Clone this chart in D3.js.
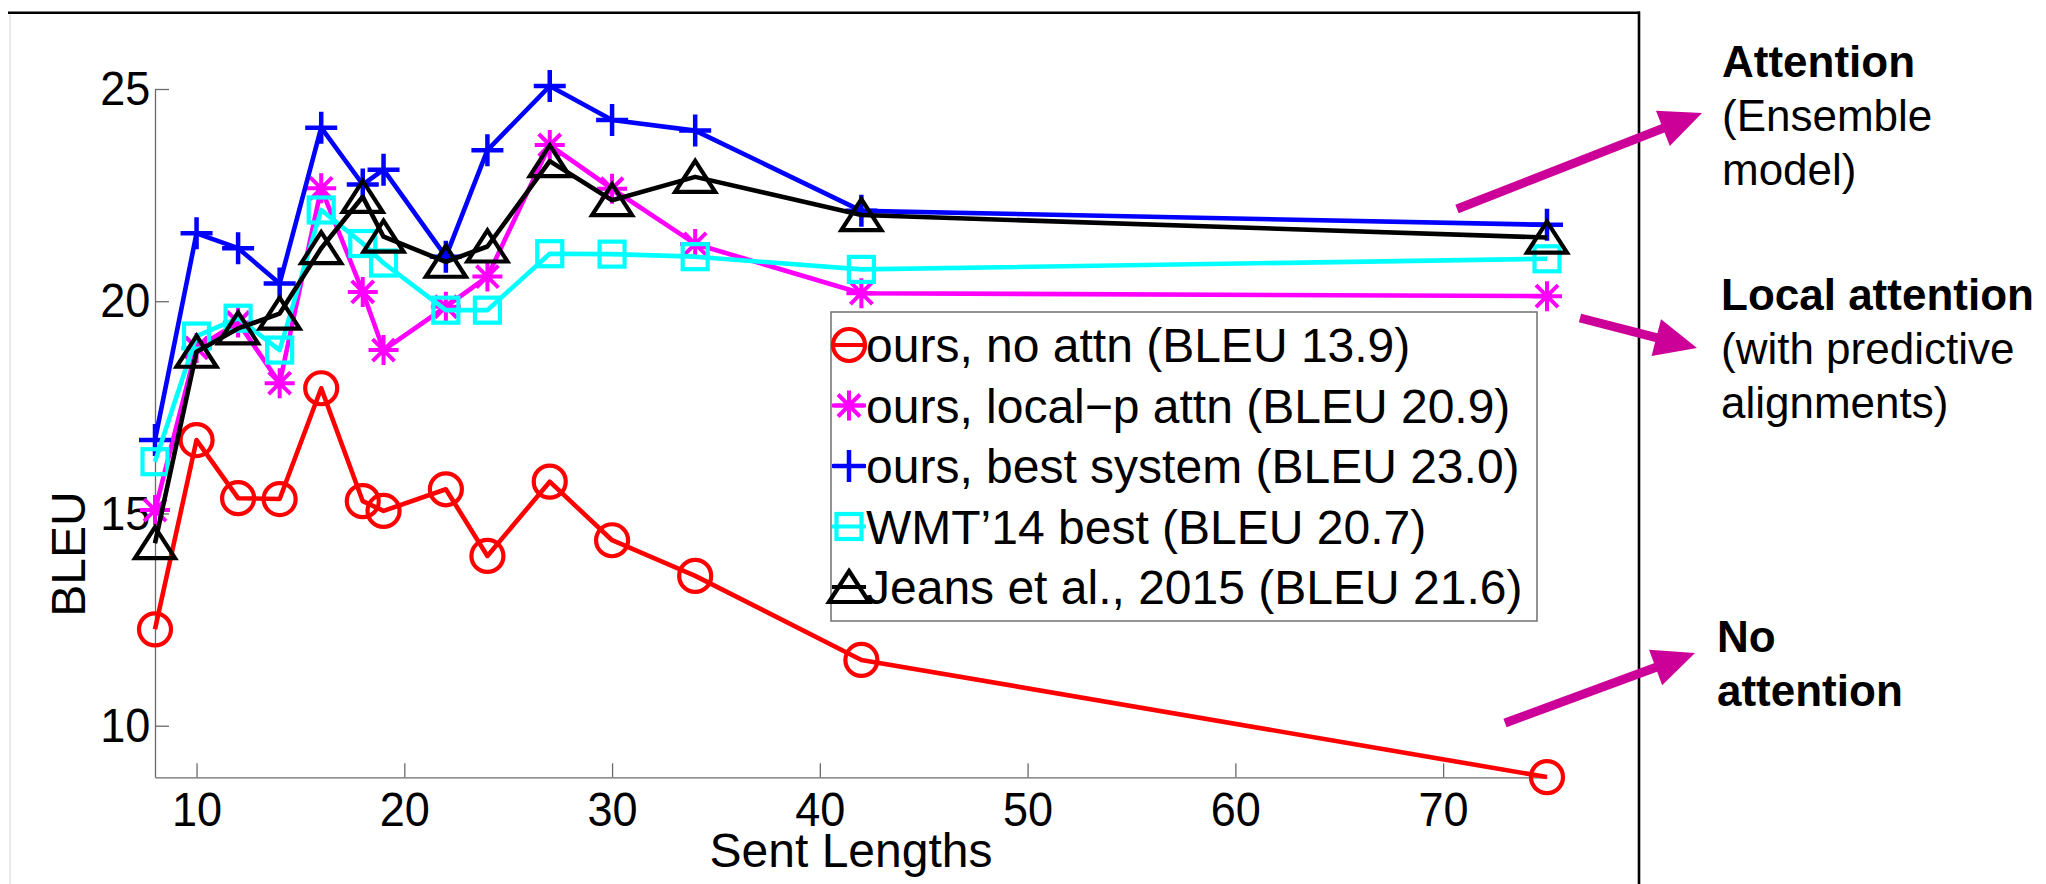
<!DOCTYPE html>
<html>
<head>
<meta charset="utf-8">
<script src="https://cdn.jsdelivr.net/npm/d3@7"></script>
<style>
  html, body { margin: 0; padding: 0; background: #fff; }
  svg { display: block; font-family: "Liberation Sans", Arial, Helvetica, sans-serif; }
  .tick text { font-size: 49px; fill: #000; }
  .tick line, .domain { stroke: #6a6a6a; stroke-width: 1.3; }
</style>
</head>
<body>
<svg id="chart" width="2046" height="884"></svg>
<script>
/* BLEU vs sentence length — MATLAB-style line plot with slide annotations */

// ============================================================
// Data
// ============================================================

const sentLengths = [8, 10, 12, 14, 16, 18, 19, 22, 24, 27, 30, 34, 42, 75];

const noAttn     = [12.27, 16.73, 15.36, 15.34, 17.95, 15.29, 15.06, 15.57, 14.00, 15.75, 14.37, 13.53, 11.55, 8.79];
const localP     = [15.08, 18.90, 19.50, 18.07, 22.66, 20.22, 18.85, 19.87, 20.58, 23.68, 22.65, 21.35, 20.19, 20.12];
const bestSystem = [16.73, 21.60, 21.25, 20.42, 24.09, 22.75, 23.10, 21.05, 23.56, 25.07, 24.27, 24.02, 22.13, 21.80];
const wmt14      = [16.22, 19.18, 19.60, 18.85, 22.15, 21.36, 20.90, 19.79, 19.79, 21.12, 21.11, 21.05, 20.75, 21.00];
const jeans      = [14.30, 18.81, 19.36, 19.71, 21.25, 22.46, 21.52, 20.93, 21.29, 23.30, 22.38, 22.93, 22.03, 21.50];

const seriesNames   = [
  'ours, no attn (BLEU 13.9)',
  'ours, local\u2212p attn (BLEU 20.9)',
  'ours, best system (BLEU 23.0)',
  'WMT\u201914 best (BLEU 20.7)',
  'Jeans et al., 2015 (BLEU 21.6)',
];
const seriesValues  = [noAttn, localP, bestSystem, wmt14, jeans];
const seriesColors  = ['#ff0000', '#ff00ff', '#0000ff', '#00ffff', '#000000'];
const seriesMarkers = ['circle', 'asterisk', 'plus', 'square', 'triangle'];

const xTicks = [10, 20, 30, 40, 50, 60, 70];
const yTicks = [10, 15, 20, 25];

// side notes: [bold lines], [normal lines]
const noteBold   = [['Attention'], ['Local attention'], ['No', 'attention']];
const noteNormal = [['(Ensemble', 'model)'], ['(with predictive', 'alignments)'], []];

// ============================================================
// Layout
// ============================================================

const svg = d3.select('#chart');
const ARROW = '#cc0099';

const x = d3.scaleLinear().domain([8, 75]).range([155, 1547]);
const y = d3.scaleLinear().domain([8.785, 25]).range([777.3, 89]);

// slide frame
svg.append('line').attr('x1', 10).attr('x2', 10).attr('y1', 13).attr('y2', 884)
  .attr('stroke', '#e4e4e4').attr('stroke-width', 1.5);
svg.append('line').attr('x1', 8).attr('x2', 1640).attr('y1', 12.7).attr('y2', 12.7)
  .attr('stroke', '#000').attr('stroke-width', 2.6);
svg.append('line').attr('x1', 1639).attr('x2', 1639).attr('y1', 11.5).attr('y2', 884)
  .attr('stroke', '#000').attr('stroke-width', 2.6);

// ============================================================
// Axes
// ============================================================

const yAxis = svg.append('g')
  .attr('transform', 'translate(155,0)')
  .call(d3.axisLeft(y).tickValues(yTicks).tickSize(-14).tickSizeOuter(0).tickPadding(5));

const xAxis = svg.append('g')
  .attr('transform', 'translate(0,777.3)')
  .call(d3.axisBottom(x).tickValues(xTicks).tickSize(-14).tickSizeOuter(0).tickPadding(14));

// MATLAB's Helvetica is a touch narrower than Liberation Sans
yAxis.selectAll('.tick text').attr('transform', 'scale(0.92,1)');
xAxis.selectAll('.tick text').attr('transform', 'scale(0.92,1)');

svg.append('text')
  .attr('x', 851).attr('y', 867)
  .attr('text-anchor', 'middle')
  .attr('font-size', 48)
  .text('Sent Lengths');

svg.append('text')
  .attr('transform', 'translate(85,554) rotate(-90)')
  .attr('text-anchor', 'middle')
  .attr('font-size', 48)
  .text('BLEU');

// ============================================================
// Markers
// ============================================================

function drawMarker(g, type, cx, cy, color) {
  const m = g.append('g').attr('transform', `translate(${cx},${cy})`)
    .attr('fill', 'none').attr('stroke', color).attr('stroke-width', 4.2);
  if (type === 'circle') {
    m.append('circle').attr('r', 16);
  } else if (type === 'plus') {
    m.append('path').attr('d', 'M-16,0H16M0,-16V16').attr('stroke-width', 4.5);
  } else if (type === 'asterisk') {
    m.append('path').attr('d', 'M-15,0H15M0,-15V15M-11,-11L11,11M-11,11L11,-11').attr('stroke-width', 4);
  } else if (type === 'square') {
    m.append('rect').attr('x', -12.5).attr('y', -12.5).attr('width', 25).attr('height', 25);
  } else if (type === 'triangle') {
    m.append('path').attr('d', 'M0,-16L20,15H-20Z').attr('stroke-linejoin', 'miter');
  }
}

// ============================================================
// Series
// ============================================================

const line = d3.line().x(d => x(d[0])).y(d => y(d[1]));

seriesValues.forEach((vals, i) => {
  const pts = sentLengths.map((s, j) => [s, vals[j]]);
  const g = svg.append('g').attr('class', 'series');
  g.append('path')
    .datum(pts)
    .attr('d', line)
    .attr('fill', 'none')
    .attr('stroke', seriesColors[i])
    .attr('stroke-width', 4.6)
    .attr('stroke-linejoin', 'round');
  pts.forEach(p => drawMarker(g, seriesMarkers[i], x(p[0]), y(p[1]), seriesColors[i]));
});

// ============================================================
// Legend
// ============================================================

const legend = svg.append('g');
legend.append('rect')
  .attr('x', 831).attr('y', 312).attr('width', 706).attr('height', 309)
  .attr('fill', '#fff').attr('stroke', '#707070').attr('stroke-width', 1.5);

seriesNames.forEach((name, i) => {
  const cy = 345 + i * 60.5;
  legend.append('line')
    .attr('x1', 832).attr('x2', 866).attr('y1', cy).attr('y2', cy)
    .attr('stroke', seriesColors[i]).attr('stroke-width', 4.2);
  drawMarker(legend, seriesMarkers[i], 849, cy, seriesColors[i]);
  legend.append('text')
    .attr('x', 866).attr('y', cy + 17)
    .attr('font-size', 48)
    .text(name);
});

// ============================================================
// Side notes + arrows
// ============================================================

const noteX = [1722, 1721, 1717];
const noteY = [77, 310, 652];      // first baseline
const noteLead = 54;

noteBold.forEach((lines, i) => {
  const all = lines.map(t => ({ t, bold: true }))
    .concat(noteNormal[i].map(t => ({ t, bold: false })));
  all.forEach((l, k) => {
    svg.append('text')
      .attr('x', noteX[i]).attr('y', noteY[i] + k * noteLead)
      .attr('font-size', 44)
      .attr('font-weight', l.bold ? 'bold' : 'normal')
      .text(l.t);
  });
});

const arrowTail = [[1457, 209], [1580, 318], [1505, 723]];
const arrowTip  = [[1702, 113], [1697, 348], [1695, 653]];

arrowTail.forEach((t, i) => {
  const p = arrowTip[i];
  const dx = p[0] - t[0], dy = p[1] - t[1];
  const len = Math.hypot(dx, dy);
  const ux = dx / len, uy = dy / len;
  const hl = 42, hw = 19;
  const bx = p[0] - ux * hl, by = p[1] - uy * hl;
  svg.append('line')
    .attr('x1', t[0]).attr('y1', t[1]).attr('x2', bx + ux * 2).attr('y2', by + uy * 2)
    .attr('stroke', ARROW).attr('stroke-width', 9);
  svg.append('path')
    .attr('d', `M${p[0]},${p[1]}L${bx - uy * hw},${by + ux * hw}L${bx + uy * hw},${by - ux * hw}Z`)
    .attr('fill', ARROW);
});
</script>
</body>
</html>
